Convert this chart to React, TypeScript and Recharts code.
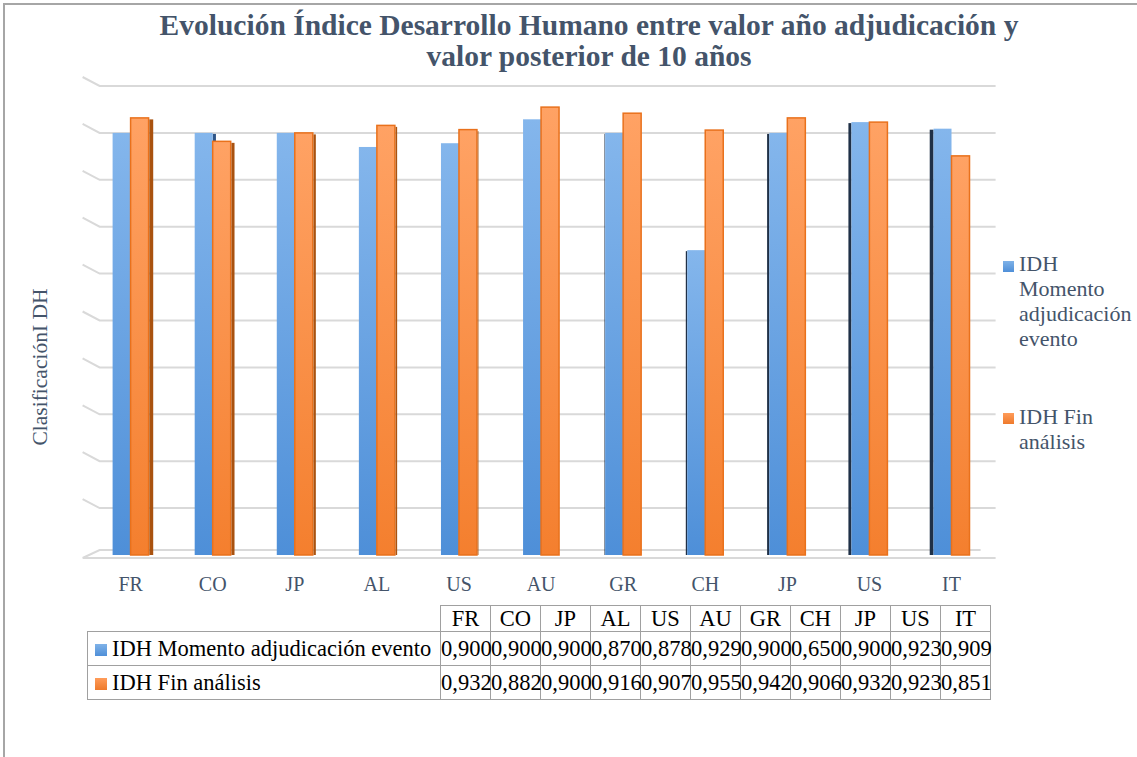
import React from 'react';
import { BarChart, Bar, XAxis, YAxis, CartesianGrid } from 'recharts';

const categories = ['FR', 'CO', 'JP', 'AL', 'US', 'AU', 'GR', 'CH', 'JP', 'US', 'IT'];
const idhMomento = [0.9, 0.9, 0.9, 0.87, 0.878, 0.929, 0.9, 0.65, 0.9, 0.923, 0.909];
const idhFin = [0.932, 0.882, 0.9, 0.916, 0.907, 0.955, 0.942, 0.906, 0.932, 0.923, 0.851];
const yTicks = [0, 0.1, 0.2, 0.3, 0.4, 0.5, 0.6, 0.7, 0.8, 0.9, 1];
const seriesNames = ['IDH Momento adjudicación evento', 'IDH Fin análisis'];

const data = categories.map((c, i) => ({ idx: i, cat: c, momento: idhMomento[i], fin: idhFin[i] }));

const SERIF = '"Liberation Serif", "Times New Roman", serif';
const SLATE = '#44546A';
const BLUE = '#5b9bd5';
const ORANGE = '#ed7d31';

const W = 1137;
const PLOT_LEFT = 89.6;
const PLOT_RIGHT = 992.6;
const PLOT_TOP = 86;
const PLOT_BOTTOM = 555;
const CHART_H = 600;
const VANISH = 545;

const fmt = (v: number) => v.toFixed(3).replace('.', ',');

// bar with a thin shaded side, faking Excel's 3D column look
function Bar3D(props: any) {
  const { x, y, width, height, kind } = props;
  if (!height || height <= 0) return null;
  const cx = x + width / 2;
  const side = Math.min(4, Math.abs(cx - VANISH) / 105);
  const left = cx < VANISH;
  if (kind === 'blue') {
    return (
      <g>
        {left ? (
          <rect x={x + width} y={y + 1} width={side} height={height - 1} fill="#2f5587" />
        ) : (
          <rect x={x - side} y={y + 1} width={side} height={height - 1} fill="#1f3047" />
        )}
        <rect x={x} y={y} width={width} height={height} fill="url(#gBlue)" />
      </g>
    );
  }
  return (
    <g>
      <rect x={x} y={y} width={width} height={height} fill="url(#gOrange)" stroke="#e9711c" strokeWidth={1.5} />
      {left && <rect x={x + width + 0.75} y={y + 1.5} width={side} height={height - 1.5} fill="#a9520f" />}
    </g>
  );
}

function GridLine(props: any) {
  const { x1, x2, y1, index } = props;
  const isFloor = Math.abs(y1 - PLOT_BOTTOM) < 1;
  if (isFloor) {
    return (
      <path
        key={`g-${index}-${y1}`}
        d={`M${x1 - 7},${y1 + 3} L${x1 + 10},${y1 - 5} L${x2 - 12},${y1 - 5} M${x1 - 7},${y1 + 3} L${x2 + 3},${y1 + 3}`}
        fill="none"
        stroke="#d9d9d9"
        strokeWidth={2}
      />
    );
  }
  return (
    <path
      key={`g-${index}-${y1}`}
      d={`M${x1 - 7},${y1 - 9} L${x1 + 10},${y1} L${x2 + 3},${y1}`}
      fill="none"
      stroke="#d9d9d9"
      strokeWidth={2}
    />
  );
}

function CatTick(props: any) {
  const { x, payload } = props;
  return (
    <text x={x} y={PLOT_BOTTOM + 36} textAnchor="middle" fill={SLATE} fontFamily={SERIF} fontSize={20}>
      {categories[payload.value]}
    </text>
  );
}

const NoTick = () => <g />;

const cellBorder = '1.5px solid #a0a0a0';

export default function App() {
  return (
    <div style={{ position: 'absolute', left: 0, top: 0, width: W, height: 757, background: '#fff', overflow: 'hidden', fontFamily: SERIF }}>
      <div style={{ position: 'absolute', left: 3, top: 3, width: W, height: 800, borderTop: '2px solid #a6a6a6', borderLeft: '2px solid #a6a6a6' }} />

      <div style={{ position: 'absolute', left: 89, top: 10, width: 1000, textAlign: 'center', color: SLATE, fontWeight: 'bold', fontSize: 29.5, lineHeight: '31px' }}>
        Evolución Índice Desarrollo Humano entre valor año adjudicación y
        <br />
        valor posterior de 10 años
      </div>

      <div style={{ position: 'absolute', left: 0, top: 0 }}>
        <BarChart
          width={W}
          height={CHART_H}
          data={data}
          barSize={18}
          barGap={0}
          margin={{ top: PLOT_TOP, right: W - PLOT_RIGHT, left: PLOT_LEFT, bottom: 5 }}
        >
          <defs>
            <linearGradient id="gBlue" x1="0" y1="0" x2="0" y2="1">
              <stop offset="0%" stopColor="#84b6ec" />
              <stop offset="100%" stopColor="#4e8fd8" />
            </linearGradient>
            <linearGradient id="gOrange" x1="0" y1="0" x2="0" y2="1">
              <stop offset="0%" stopColor="#ffa264" />
              <stop offset="100%" stopColor="#f47f2e" />
            </linearGradient>
          </defs>
          <CartesianGrid vertical={false} horizontal={(p: any) => <GridLine {...p} />} />
          <XAxis dataKey="idx" height={CHART_H - 5 - PLOT_BOTTOM} axisLine={false} tickLine={false} tick={<CatTick />} interval={0} />
          <YAxis width={0} domain={[0, 1]} ticks={yTicks} interval={0} axisLine={false} tickLine={false} tick={<NoTick />} />
          <Bar dataKey="momento" name={seriesNames[0]} fill={BLUE} isAnimationActive={false} shape={(p: any) => <Bar3D {...p} kind="blue" />} />
          <Bar dataKey="fin" name={seriesNames[1]} fill={ORANGE} isAnimationActive={false} shape={(p: any) => <Bar3D {...p} kind="orange" />} />
        </BarChart>
      </div>

      <div
        style={{
          position: 'absolute', left: 40 - 100, top: 367 - 12, width: 200, height: 24, lineHeight: '24px',
          textAlign: 'center', transform: 'rotate(-90deg)', color: SLATE, fontSize: 21.5,
        }}
      >
        ClasificaciónI DH
      </div>

      {/* legend */}
      <div style={{ position: 'absolute', left: 1003, top: 251, color: SLATE, fontSize: 22, lineHeight: '25px' }}>
        <div style={{ position: 'absolute', left: 0, top: 10, width: 11, height: 11, background: 'linear-gradient(#7fb2e8, #4f8fd8)' }} />
        <div style={{ position: 'absolute', left: 16, top: 0, width: 118 }}>{seriesNames[0]}</div>
        <div style={{ position: 'absolute', left: 0, top: 162, width: 11, height: 11, background: 'linear-gradient(#ff9c5a, #ee7a2c)' }} />
        <div style={{ position: 'absolute', left: 16, top: 153, width: 118 }}>{seriesNames[1]}</div>
      </div>

      {/* data table */}
      <table style={{ position: 'absolute', left: 87, top: 605, width: 903, borderCollapse: 'collapse', tableLayout: 'fixed', fontSize: 22.5, color: '#000' }}>
        <colgroup>
          <col style={{ width: 353 }} />
          {categories.map((_, i) => <col key={i} style={{ width: 50 }} />)}
        </colgroup>
        <tbody>
          <tr style={{ height: 26 }}>
            <td style={{ border: 'none', padding: 0 }} />
            {categories.map((c, i) => (
              <td key={i} style={{ border: cellBorder, padding: 0, textAlign: 'center', lineHeight: '24px', whiteSpace: 'nowrap' }}>{c}</td>
            ))}
          </tr>
          {[idhMomento, idhFin].map((vals, r) => (
            <tr key={r} style={{ height: 34 }}>
              <td style={{ border: cellBorder, padding: '0 0 0 7px', whiteSpace: 'nowrap', lineHeight: '32px' }}>
                <span style={{ display: 'inline-block', width: 12, height: 12, marginRight: 5, background: r === 0 ? 'linear-gradient(#7fb2e8, #4f8fd8)' : 'linear-gradient(#ff9c5a, #ee7a2c)' }} />
                {seriesNames[r]}
              </td>
              {vals.map((v, i) => (
                <td key={i} style={{ border: cellBorder, padding: 0, textAlign: 'center', whiteSpace: 'nowrap', overflow: 'visible', lineHeight: '32px' }}>{fmt(v)}</td>
              ))}
            </tr>
          ))}
        </tbody>
      </table>
    </div>
  );
}
